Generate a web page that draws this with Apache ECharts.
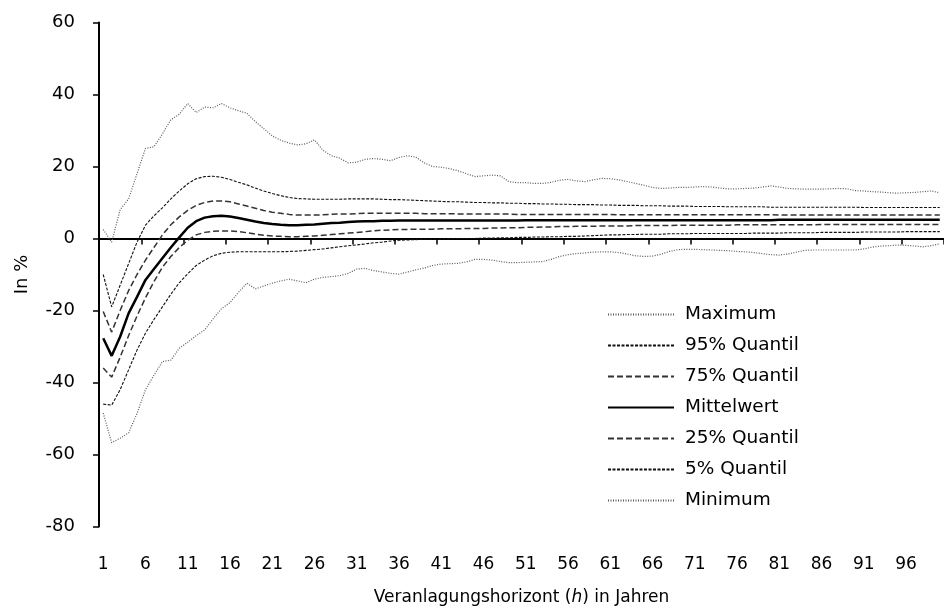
<!DOCTYPE html>
<html>
<head>
<meta charset="utf-8">
<script src="https://cdn.jsdelivr.net/npm/echarts@6/dist/echarts.min.js"></script>
<style>
  html, body { margin: 0; padding: 0; background: #fff; }
  #chart { width: 944px; height: 612px; }
</style>
</head>
<body>
<div id="chart"></div>
<script>
// Horizon in years, 1..100
const horizons = [];
for (let h = 1; h <= 100; h++) horizons.push(String(h));

const yTicks = { min: -80, max: 60, step: 20 };

const maximum = [
  2.5, -1, 8, 11, 18, 25, 25.5, 29, 33, 34.5,
  37.5, 35, 36.5, 36.3, 37.5, 36.3, 35.5, 34.8, 32.5, 30.5,
  28.5, 27.3, 26.5, 26, 26.3, 27.4, 24.5, 23, 22.3, 21,
  21.2, 22, 22.2, 22, 21.6, 22.5, 23, 22.6, 21, 20,
  19.8, 19.4, 18.8, 18, 17.2, 17.4, 17.6, 17.4, 15.8, 15.5,
  15.5, 15.3, 15.3, 15.6, 16.2, 16.4, 16, 15.8, 16.3, 16.7,
  16.6, 16.3, 15.8, 15.3, 14.8, 14.2, 13.9, 14, 14.2, 14.2,
  14.3, 14.4, 14.3, 14, 13.8, 13.8, 13.9, 14, 14.3, 14.6,
  14.3, 13.9, 13.8, 13.7, 13.7, 13.7, 13.8, 13.9, 13.8, 13.3,
  13.2, 13, 12.9, 12.7, 12.6, 12.7, 12.8, 13, 13.2, 12.7
];

const q95 = [
  -10, -19, -13, -7, -1, 3.7, 6.3, 8.5, 11, 13.2,
  15.2, 16.6, 17.2, 17.3, 17, 16.4, 15.6, 14.9, 14, 13.2,
  12.5, 11.9, 11.4, 11.1, 11, 10.9, 10.9, 10.9, 10.9, 11,
  11, 11, 11, 10.9, 10.8, 10.8, 10.7, 10.6, 10.5, 10.4,
  10.3, 10.2, 10.2, 10.1, 10, 10, 9.9, 9.9, 9.8, 9.8,
  9.7, 9.7, 9.6, 9.6, 9.5, 9.5, 9.4, 9.4, 9.4, 9.3,
  9.3, 9.2, 9.2, 9.2, 9.1, 9.1, 9.1, 9.0, 9.0, 9.0,
  8.9, 8.9, 8.9, 8.9, 8.8, 8.8, 8.8, 8.8, 8.8, 8.7,
  8.7, 8.7, 8.7, 8.7, 8.7, 8.7, 8.7, 8.7, 8.7, 8.7,
  8.6, 8.6, 8.6, 8.6, 8.6, 8.6, 8.6, 8.6, 8.6, 8.6
];

const q75 = [
  -20.3, -26, -20, -14.5, -10, -6, -2.5, 1, 3.8, 6,
  7.8, 9.2, 10, 10.4, 10.4, 10.2, 9.6, 9, 8.4, 7.8,
  7.3, 7, 6.7, 6.5, 6.5, 6.5, 6.6, 6.7, 6.8, 6.8,
  6.9, 7.0, 7.0, 7.0, 7.0, 7.0, 7.0, 7.0, 6.9, 6.9,
  6.9, 6.9, 6.8, 6.8, 6.8, 6.8, 6.8, 6.8, 6.8, 6.7,
  6.7, 6.7, 6.7, 6.7, 6.7, 6.7, 6.7, 6.7, 6.7, 6.7,
  6.7, 6.6, 6.6, 6.6, 6.6, 6.6, 6.6, 6.6, 6.6, 6.6,
  6.6, 6.6, 6.6, 6.6, 6.6, 6.6, 6.6, 6.6, 6.6, 6.6,
  6.5, 6.5, 6.5, 6.5, 6.5, 6.5, 6.5, 6.5, 6.5, 6.5,
  6.5, 6.5, 6.5, 6.5, 6.5, 6.5, 6.5, 6.5, 6.5, 6.5
];

const mean = [
  -27.7, -32.6, -27.3, -20.8, -16.2, -11.5, -8.5, -5.5, -2.5, 0.3,
  3, 4.8, 5.8, 6.2, 6.3, 6.1, 5.7, 5.2, 4.7, 4.3,
  4, 3.8, 3.7, 3.7, 3.8, 3.9, 4.1, 4.3, 4.4, 4.6,
  4.7, 4.8, 4.8, 4.9, 4.9, 5.0, 5.0, 5.0, 5.0, 5.0,
  5.0, 5.0, 5.0, 5.0, 5.0, 5.0, 5.0, 5.0, 5.0, 5.0,
  5.1, 5.1, 5.1, 5.1, 5.1, 5.1, 5.1, 5.1, 5.1, 5.1,
  5.1, 5.1, 5.1, 5.1, 5.1, 5.1, 5.1, 5.1, 5.1, 5.1,
  5.1, 5.1, 5.1, 5.1, 5.1, 5.1, 5.1, 5.1, 5.1, 5.1,
  5.2, 5.2, 5.2, 5.2, 5.2, 5.2, 5.2, 5.2, 5.2, 5.2,
  5.2, 5.2, 5.2, 5.2, 5.2, 5.2, 5.2, 5.2, 5.2, 5.2
];

const q25 = [
  -36, -38.5, -33, -27, -21.5, -16.5, -12, -8, -5, -2.5,
  -0.5, 1, 1.7, 2, 2.1, 2.1, 1.9, 1.6, 1.2, 0.9,
  0.7, 0.6, 0.5, 0.5, 0.6, 0.7, 0.9, 1.1, 1.3, 1.5,
  1.7, 1.9, 2.1, 2.3, 2.4, 2.5, 2.5, 2.6, 2.6, 2.6,
  2.7, 2.7, 2.7, 2.8, 2.8, 2.8, 2.9, 2.9, 3.0, 3.0,
  3.1, 3.1, 3.2, 3.2, 3.3, 3.3, 3.4, 3.4, 3.4, 3.5,
  3.5, 3.5, 3.5, 3.6, 3.6, 3.6, 3.6, 3.6, 3.7, 3.7,
  3.7, 3.7, 3.7, 3.7, 3.7, 3.8, 3.8, 3.8, 3.8, 3.8,
  3.8, 3.8, 3.8, 3.8, 3.8, 3.9, 3.9, 3.9, 3.9, 3.9,
  3.9, 3.9, 3.9, 3.9, 3.9, 3.9, 3.9, 3.9, 3.9, 3.9
];

const q05 = [
  -46, -46.3, -42, -36.5, -31, -26.3, -22.5, -19, -15.5, -12.3,
  -9.8, -7.5, -6, -4.8, -4.1, -3.8, -3.7, -3.7, -3.7, -3.7,
  -3.7, -3.7, -3.6, -3.5, -3.3, -3.1, -2.9, -2.6, -2.3, -2,
  -1.8, -1.5, -1.2, -1, -0.7, -0.5, -0.4, -0.3, -0.2, -0.2,
  -0.1, -0.1, 0, 0, 0, 0.1, 0.1, 0.2, 0.2, 0.3,
  0.3, 0.4, 0.4, 0.5, 0.5, 0.6, 0.6, 0.7, 0.8, 0.9,
  1.0, 1.0, 1.1, 1.1, 1.2, 1.2, 1.2, 1.3, 1.3, 1.3,
  1.4, 1.4, 1.4, 1.4, 1.4, 1.4, 1.4, 1.5, 1.5, 1.5,
  1.5, 1.6, 1.6, 1.6, 1.6, 1.7, 1.7, 1.7, 1.7, 1.7,
  1.8, 1.8, 1.8, 1.8, 1.8, 1.9, 1.9, 1.9, 1.9, 1.9
];

const minimum = [
  -48.5, -56.7, -55.5, -54, -48.6, -42, -38, -34.2, -33.8, -30.5,
  -28.8, -27, -25.4, -22.3, -19.5, -17.8, -15, -12.4, -14, -13.2,
  -12.4, -11.8, -11.3, -11.8, -12.3, -11.3, -10.8, -10.6, -10.3, -9.7,
  -8.5, -8.3, -8.9, -9.3, -9.7, -9.9, -9.3, -8.7, -8.2, -7.5,
  -7.1, -7, -6.9, -6.5, -5.8, -5.8, -6, -6.4, -6.7, -6.7,
  -6.6, -6.5, -6.4, -5.8, -5, -4.5, -4.2, -4, -3.8, -3.7,
  -3.7, -3.9, -4.3, -4.8, -5, -4.9, -4.4, -3.6, -3.1, -3,
  -3, -3.1, -3.2, -3.3, -3.4, -3.6, -3.7, -3.9, -4.2, -4.5,
  -4.6, -4.3, -3.8, -3.3, -3.2, -3.2, -3.2, -3.2, -3.2, -3.2,
  -2.9, -2.4, -2.1, -2, -1.8, -1.9, -2.1, -2.3, -2, -1.5
];

const FONT = 'DejaVu Sans';

// line styles per band
const dotted = { color: '#5a5a5a', width: 1.2, type: [1, 1.5] };
const shortDash = { color: '#111111', width: 1.1, type: [3, 1.5] };
const longDash = { color: '#333333', width: 1.5, type: [6, 3] };
const solid = { color: '#000000', width: 2.5, type: 'solid' };

function lineSeries(name, data, style) {
  return {
    name: name,
    type: 'line',
    data: data,
    xAxisIndex: 0,
    symbol: 'none',
    smooth: false,
    lineStyle: style,
    itemStyle: { color: style.color },
    emphasis: { disabled: true },
    animation: false
  };
}

const chart = echarts.init(document.getElementById('chart'), null, { renderer: 'canvas' });

chart.setOption({
  backgroundColor: '#ffffff',
  animation: false,
  grid: { left: 99, top: 22.5, width: 848, height: 504, containLabel: false },
  legend: {
    orient: 'vertical',
    left: 607,
    top: 305,
    padding: 0,
    itemWidth: 66,
    itemHeight: 20,
    itemGap: 12,
    selectedMode: false,
    itemStyle: { opacity: 0 },
    textStyle: { fontFamily: FONT, fontSize: 18.5, color: '#000', padding: [0, 0, 0, 6] },
    data: ['Maximum', '95% Quantil', '75% Quantil', 'Mittelwert', '25% Quantil', '5% Quantil', 'Minimum']
  },
  xAxis: [
    {
      type: 'category',
      data: horizons,
      boundaryGap: true,
      axisLine: { onZero: true, lineStyle: { color: '#000', width: 2 } },
      axisTick: { show: true, interval: 4, length: 6, lineStyle: { color: '#000', width: 1.5 } },
      axisLabel: { show: false },
      splitLine: { show: false }
    },
    {
      type: 'category',
      data: horizons,
      boundaryGap: true,
      position: 'bottom',
      offset: 0,
      axisLine: { show: false, onZero: false },
      axisTick: { show: false },
      axisLabel: { interval: 4, margin: 30, fontFamily: FONT, fontSize: 17, color: '#000' },
      splitLine: { show: false },
      name: '{a|Veranlagungshorizont (}{i|h}{a|) in Jahren}',
      nameLocation: 'middle',
      nameGap: 63,
      nameTextStyle: {
        rich: {
          a: { fontFamily: FONT, fontSize: 17, color: '#000' },
          i: { fontFamily: FONT, fontSize: 17, color: '#000', fontStyle: 'italic' }
        }
      }
    }
  ],
  yAxis: {
    type: 'value',
    min: yTicks.min,
    max: yTicks.max,
    interval: yTicks.step,
    axisLine: { show: true, onZero: false, lineStyle: { color: '#000', width: 2 } },
    axisTick: { show: true, length: 6, lineStyle: { color: '#000', width: 1.5 } },
    axisLabel: { margin: 24, fontFamily: FONT, fontSize: 18, color: '#000' },
    splitLine: { show: false },
    name: 'In %',
    nameLocation: 'middle',
    nameGap: 68,
    nameRotate: 90,
    nameTextStyle: { fontFamily: FONT, fontSize: 18, color: '#000' }
  },
  series: [
    lineSeries('Maximum', maximum, dotted),
    lineSeries('95% Quantil', q95, shortDash),
    lineSeries('75% Quantil', q75, longDash),
    lineSeries('Mittelwert', mean, solid),
    lineSeries('25% Quantil', q25, longDash),
    lineSeries('5% Quantil', q05, shortDash),
    lineSeries('Minimum', minimum, dotted)
  ]
});
</script>
</body>
</html>
